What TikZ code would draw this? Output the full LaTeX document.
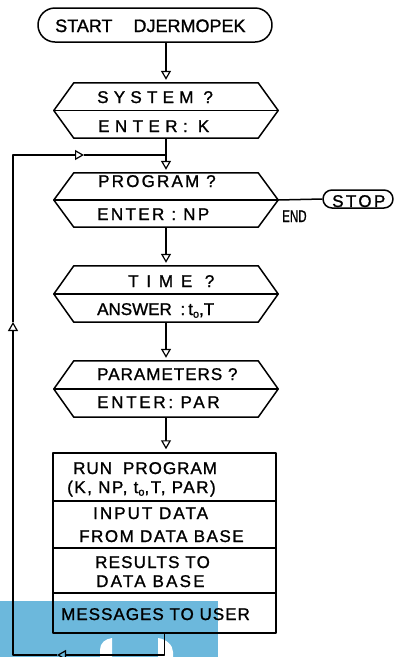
\documentclass[tikz,border=0pt]{standalone}
\usepackage{fontspec}
\setmainfont{Liberation Sans}[FakeBold=1.2]
\usetikzlibrary{arrows.meta,calc}
\newcommand\lsp[2]{{\addfontfeature{LetterSpace=#1}#2}}
\newcommand\subo{\raisebox{-0.3ex}{\fontsize{11}{11}\selectfont o}}
\definecolor{bluepatch}{RGB}{108,184,220}
\begin{document}
\begin{tikzpicture}[x=1pt,y=-1pt,
  ln/.style={line width=1.5pt, line join=round},
  con/.style={ln, -{Triangle[width=10pt,length=9pt,fill=white,line width=1.2pt]}, shorten >=3pt},
  tri/.style={ln, -{Triangle[width=10pt,length=9pt,fill=white,line width=1.2pt]}},
  triopen/.style={ln, -{Triangle[width=10pt,length=9pt,open,line width=1.2pt]}},
  hexa/.style={minimum width=184pt, inner sep=0pt},
  txt/.style={inner sep=0pt, anchor=base west, font=\fontsize{17}{17}\selectfont},
  cell/.style={draw, ln, minimum width=223pt, inner sep=0pt},
  term/.style={draw, ln, inner sep=0pt}
]
\useasboundingbox (0,0) rectangle (394,657);
% blue patch at bottom left
\fill[bluepatch] (0,601) rectangle (218,657);
\fill[white] (100,657) -- (100,650) .. controls (100,643) and (105,639) .. (112,638) -- (112,657) -- cycle;
\fill[white] (158,657) -- (158,638) .. controls (166,639) and (173,645) .. (173,652) -- (173,657) -- cycle;

% terminals
\node[term, minimum width=234pt, minimum height=34pt, rounded corners=17pt] (start) at (155,25) {};
\node[txt, font=\fontsize{18}{18}\selectfont] (tStart) at (55,32) {START\hspace{21pt}DJERMOPEK};
\node[term, minimum width=70pt, minimum height=18pt, rounded corners=9pt] (stop) at (358,199) {};
\node[txt] (tStop) at (332,207) {\lsp{14}{STOP}};
\node[txt] (tEnd) at (282,222) {\scalebox{0.68}[1]{END}};

% hexagons
\node[hexa, minimum height=55pt] (sys) at (166,110.5) {};
\node[hexa, minimum height=54pt] (prog) at (166,200) {};
\node[hexa, minimum height=56pt] (time) at (166,294) {};
\node[hexa, minimum height=56pt] (par) at (166,389) {};
\foreach \h in {sys,prog,time,par}{
  \draw[ln] (\h.north west) -- (\h.north east) -- ($(\h.east)+(20,0)$) -- (\h.south east)
     -- (\h.south west) -- ($(\h.west)+(-20,0)$) -- cycle;
  \draw[ln] ($(\h.west)+(-20,0)$) -- ($(\h.east)+(20,0)$);
}
\coordinate (progR) at ($(prog.east)+(20,0)$);

\node[txt] (tSysA) at (97,103) {\lsp{31}{SYSTEM ?}};
\node[txt] (tSysB) at (98,132) {\lsp{32}{ENTER: K}};
\node[txt] (tProgA) at (98,187) {\lsp{13}{PROGRAM ?}};
\node[txt] (tProgB) at (97,220) {\lsp{14}{ENTER : NP}};
\node[txt] (tTimeA) at (128,287) {\lsp{46}{TIME ?}};
\node[txt] (tTimeB) at (97,315) {ANSWER\hspace{4pt} :\hspace{3pt}t\subo,T};
\node[txt] (tParA) at (97,380) {\lsp{6}{PARAMETERS ?}};
\node[txt] (tParB) at (97,408) {\lsp{16}{ENTER: PAR}};

% run block
\node[cell, minimum height=48pt] (run1) at (164.5,477) {};
\node[cell, minimum height=47pt] (run2) at (164.5,524.5) {};
\node[cell, minimum height=45pt] (run3) at (164.5,570.5) {};
\node[cell, minimum height=40pt] (run4) at (164.5,613) {};
\node[txt] (tRunA) at (73,474) {\lsp{6}{RUN\hspace{11pt}PROGRAM}};
\node[txt] (tRunB) at (67,493) {\lsp{9}{(K, NP, t\subo,T, PAR)}};
\node[txt] (tInA) at (93,519) {\lsp{12}{INPUT DATA}};
\node[txt] (tInB) at (79,542) {\lsp{9}{FROM DATA BASE}};
\node[txt] (tResA) at (95,568) {\lsp{7}{RESULTS TO}};
\node[txt] (tResB) at (96,587) {\lsp{13}{DATA BASE}};
\node[txt] (tMsg) at (61,620) {\lsp{6}{MESSAGES TO USER}};

% loop coordinates
\coordinate (ju) at (166,155);
\coordinate (lt) at (13,155);
\coordinate (lb) at (13,655);
\coordinate (la) at (57,655);
\coordinate (lu) at (13,322);
\coordinate (ra) at (84,155);

% connectors
\draw[con] (start.south -| sys.north) -- (sys.north);
\draw[ln] (sys.south) -- (ju);
\draw[con] (ju) -- (prog.north);
\draw[con] (prog.south) -- (time.north);
\draw[con] (time.south) -- (par.north);
\draw[con] (par.south) -- (par.south |- run1.north);
\draw[ln] (progR) -- (stop.west);
\draw[triopen] (run4.south) -- (run4.south |- lb) -- (la);
\draw[tri] (la) -- (lb) -- (lu);
\draw[tri] (lu) -- (lt) -- (ra);
\draw[ln] (ra) -- (ju);
\end{tikzpicture}
\end{document}
